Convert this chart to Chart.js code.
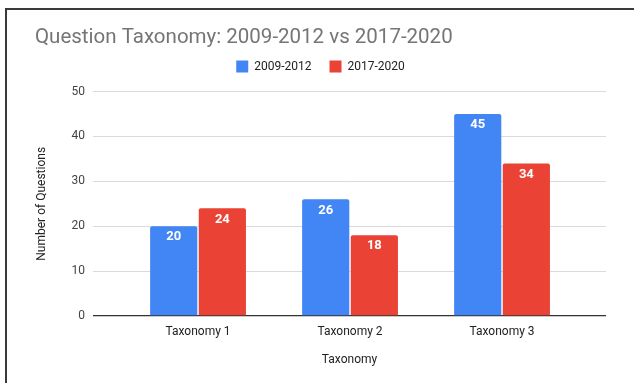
<!DOCTYPE html>
<html>
<head>
<meta charset="utf-8">
<script src="https://cdn.jsdelivr.net/npm/chart.js@4/dist/chart.umd.min.js"></script>
<style>
  html, body { margin: 0; padding: 0; background: #fff; }
  #wrap { position: relative; width: 634px; height: 383px; }
  #frame { position: absolute; left: 5px; top: 8px; right: 0; bottom: 0;
           border-top: 2px solid #3a3a3a; border-left: 2px solid #3a3a3a; pointer-events: none; }
  canvas { position: absolute; left: 0; top: 0; }
</style>
</head>
<body>
<div id="wrap">
  <canvas id="c" width="634" height="383"></canvas>
  <div id="frame"></div>
</div>
<script>
const categories = ['Taxonomy 1', 'Taxonomy 2', 'Taxonomy 3'];
const seriesNames = ['2009-2012', '2017-2020'];
const values2009 = [20, 26, 45];
const values2017 = [24, 18, 34];
const yTicks = [0, 10, 20, 30, 40, 50];

const FONT = 'Roboto, "Liberation Sans", Arial, sans-serif';

const valueLabels = {
  id: 'valueLabels',
  afterDatasetsDraw(chart) {
    const ctx = chart.ctx;
    ctx.save();
    ctx.fillStyle = '#ffffff';
    ctx.font = 'bold 13px ' + FONT;
    ctx.textAlign = 'center';
    ctx.textBaseline = 'middle';
    chart.data.datasets.forEach((ds, i) => {
      const meta = chart.getDatasetMeta(i);
      meta.data.forEach((bar, j) => {
        ctx.fillText(String(ds.data[j]), bar.x, bar.y + 11);
      });
    });
    ctx.restore();
  }
};

const legendSpacer = {
  id: 'legendSpacer',
  beforeInit(chart) {
    const legend = chart.legend;
    if (legend && !legend._spaced) {
      const orig = legend.fit;
      legend.fit = function () { orig.call(this); this.height += 9; };
      legend._spaced = true;
    }
  }
};

new Chart(document.getElementById('c'), {
  type: 'bar',
  data: {
    labels: categories,
    datasets: [
      { label: seriesNames[0], data: values2009, backgroundColor: '#4285F4', borderWidth: 0,
        borderRadius: { topLeft: 2, topRight: 2 } },
      { label: seriesNames[1], data: values2017, backgroundColor: '#EA4335', borderWidth: 0,
        borderRadius: { topLeft: 2, topRight: 2 } }
    ]
  },
  options: {
    responsive: false,
    animation: false,
    devicePixelRatio: 1,
    layout: { padding: { left: 35, right: 28, top: 0, bottom: 12 } },
    datasets: { bar: { categoryPercentage: 0.64, barPercentage: 0.97 } },
    plugins: {
      title: {
        display: true,
        text: 'Question Taxonomy: 2009-2012 vs 2017-2020',
        align: 'start',
        color: '#757575',
        font: { family: FONT, size: 20.5, weight: 'normal' },
        padding: { top: 26, bottom: -8 }
      },
      legend: {
        display: true,
        labels: {
          color: '#222',
          font: { family: FONT, size: 12 },
          boxWidth: 12, boxHeight: 12,
          padding: 18
        }
      },
      tooltip: { enabled: false }
    },
    scales: {
      x: {
        grid: { display: false, drawTicks: false },
        border: { display: false },
        ticks: { color: '#222', font: { family: FONT, size: 12 }, padding: 9 },
        title: { display: true, text: 'Taxonomy', color: '#222',
                 font: { family: FONT, size: 12 }, padding: { top: 4, bottom: 4 } },
        afterBuildTicks(scale) {
          scale._startValue = -0.691;
          scale._valueRange = 3.375;
        },
        afterFit(scale) { scale.height = 55; }
      },
      y: {
        min: 0, max: 50,
        afterBuildTicks(scale) { scale.ticks = yTicks.map(v => ({ value: v })); },
        grid: {
          drawTicks: false,
          color: ctx => ctx.tick && ctx.tick.value === 0 ? '#333333' : '#dadada',
          lineWidth: ctx => ctx.tick && ctx.tick.value === 0 ? 1.3 : 1
        },
        border: { display: false },
        ticks: { color: '#444', font: { family: FONT, size: 12 }, padding: 8 },
        title: { display: true, text: 'Number of Questions', color: '#222',
                 font: { family: FONT, size: 12 }, padding: { top: 0, bottom: 0 } },
        afterFit(scale) { scale.width = 58; }
      }
    }
  },
  plugins: [legendSpacer, valueLabels]
});
</script>
</body>
</html>
